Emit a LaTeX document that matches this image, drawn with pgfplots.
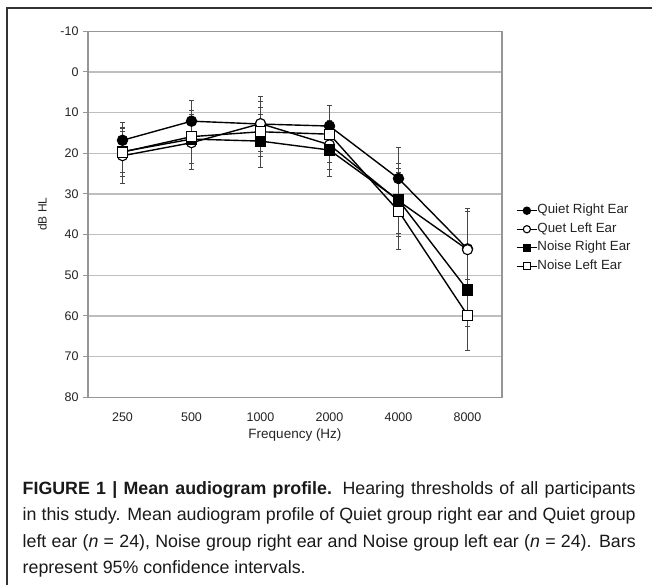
\documentclass[border=0pt]{standalone}
\usepackage{fontspec}
\setmainfont{Liberation Sans}
\usepackage{pgfplots}
\pgfplotsset{compat=1.18}

\definecolor{gridgray}{RGB}{190,190,190}
\definecolor{axisgray}{RGB}{150,150,150}
\definecolor{textgray}{RGB}{35,35,35}
\definecolor{errgray}{RGB}{70,70,70}

\pgfplotsset{
  earstyle/.style={black, line width=1.4pt, mark size=5pt,
    error bars/y dir=both, error bars/y explicit,
    error bars/error bar style={errgray, line width=0.8pt},
    error bars/error mark options={rotate=90, mark size=2.5pt, errgray, line width=0.8pt}},
}

\begin{document}
\begin{tikzpicture}
\path[use as bounding box] (0pt,0pt) rectangle (652pt,-585pt);
\draw[black!80, line width=1.3pt] (7pt,-585pt) -- (7pt,-8pt) -- (652pt,-8pt);

\begin{axis}[
  at={(88pt,-397.3pt)}, anchor=south west,
  scale only axis, width=414pt, height=366pt,
  xmin=-0.5, xmax=5.5,
  ymin=-10, ymax=80, y dir=reverse,
  ytick={-10,0,...,80},
  xtick={0,1,2,3,4,5},
  xticklabels={250,500,1000,2000,4000,8000},
  /pgf/number format/assume math mode=true,
  ticklabel style={font=\fontsize{12.5}{13}\selectfont, text=textgray},
  label style={text=textgray},
  major x tick style={draw=none},
  ytick style={axisgray, line width=1pt},
  major tick length=5pt,
  tick align=outside,
  ytick pos=left,
  yticklabel style={xshift=-1pt},
  xticklabel style={yshift=-7pt},
  ymajorgrids, grid style={gridgray, line width=1.2pt},
  axis line style={axisgray, line width=1.2pt},
  xlabel={Frequency (Hz)},
  ylabel={dB HL},
  xlabel style={at={(axis description cs:0.5,0)}, anchor=center, yshift=-37.5pt,
    font=\fontsize{13.5}{14}\selectfont},
  ylabel style={at={(axis description cs:-0.11,0.5)}, anchor=center,
    font=\fontsize{12}{13}\selectfont},
  legend style={at={(1.034,0.434)}, anchor=west, draw=none, fill=none,
    inner xsep=0pt, inner ysep=0pt, row sep=8.5pt,
    nodes={inner sep=0pt, text height=8pt, text depth=2pt,
      font=\fontsize{13.3}{14}\selectfont, text=textgray}},
  legend cell align=left,
  legend image code/.code={
    \draw[line width=1.2pt, mark size=3.6pt, mark repeat=2, mark phase=2]
      plot coordinates {(0pt,0pt) (10pt,0pt) (20pt,0pt)};},
]

% Quiet Right Ear: filled circle
\addplot[earstyle, mark=*, mark options={fill=black, solid}]
coordinates {
(0,16.8) +- (0,4.5)
(1,12.1) +- (0,5.0)
(2,12.8) +- (0,5.5)
(3,13.3) +- (0,5.0)
(4,26.2) +- (0,7.7)
(5,43.5) +- (0,10.0)
};
\addlegendentry{Quiet Right Ear}

% Quiet Left Ear: open circle
\addplot[earstyle, mark=*, mark options={fill=white, solid, line width=1.1pt}]
coordinates {
(0,20.6) +- (0,6.8)
(1,17.4) +- (0,6.5)
(2,12.7) +- (0,6.8)
(3,17.9) +- (0,6.0)
(4,31.7) +- (0,8.0)
(5,43.7) +- (0,9.5)
};
\addlegendentry{Quet Left Ear}

% Noise Right Ear: filled square
\addplot[earstyle, mark=square*, mark options={fill=black, solid}]
coordinates {
(0,19.6) +- (0,5.0)
(1,16.5) +- (0,6.0)
(2,17.0) +- (0,6.5)
(3,19.2) +- (0,6.5)
(4,31.5) +- (0,9.0)
(5,53.6) +- (0,9.0)
};
\addlegendentry{Noise Right Ear}

% Noise Left Ear: open square
\addplot[earstyle, mark=square*, mark options={fill=white, solid, line width=1.1pt}]
coordinates {
(0,19.7) +- (0,6.0)
(1,15.9) +- (0,6.5)
(2,14.7) +- (0,6.0)
(3,15.3) +- (0,7.0)
(4,34.2) +- (0,9.5)
(5,59.8) +- (0,8.7)
};
\addlegendentry{Noise Left Ear}
\end{axis}

% caption: one node per line, the first three stretched to the full width
\tikzset{capline/.style={anchor=base west, inner sep=0pt,
  font=\fontsize{17.8}{20}\selectfont, text=black!90}}
\node[capline] at (22.5pt,-494.3pt)
  {\hbox to 613pt{\textbf{FIGURE 1 | Mean audiogram profile.} Hearing thresholds of all participants}};
\node[capline] at (22.5pt,-520.8pt)
  {\hbox to 613pt{in this study. Mean audiogram profile of Quiet group right ear and Quiet group}};
\node[capline] at (22.5pt,-547.3pt)
  {\hbox to 613pt{left ear (\textit{n} = 24), Noise group right ear and Noise group left ear (\textit{n} = 24). Bars}};
\node[capline] at (22.5pt,-573.8pt)
  {represent 95\% confidence intervals.};
\end{tikzpicture}
\end{document}
